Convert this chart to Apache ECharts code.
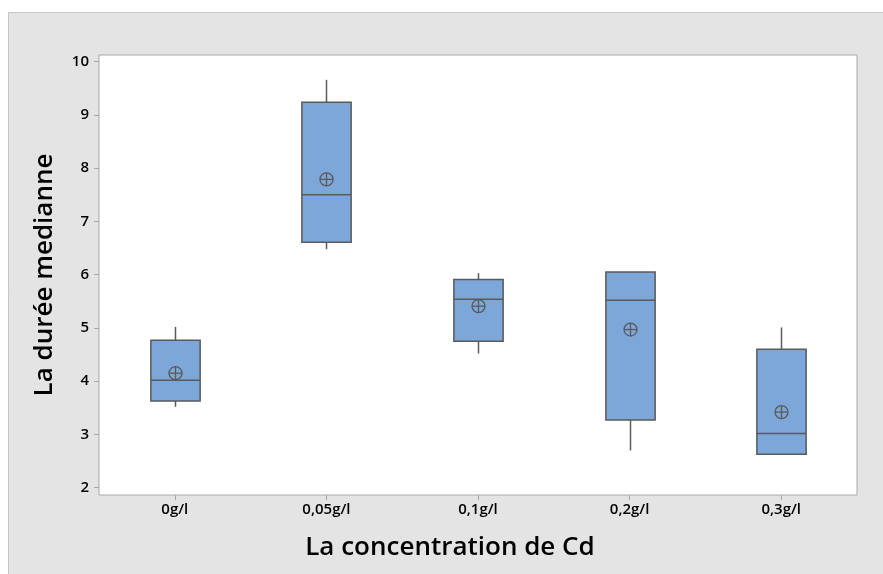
<!DOCTYPE html>
<html>
<head>
<meta charset="utf-8">
<script src="https://cdn.jsdelivr.net/npm/echarts@6/dist/echarts.min.js"></script>
<style>
html,body{margin:0;padding:0;background:#fff;}
#c{width:883px;height:574px;}
</style>
</head>
<body>
<div id="c"></div>
<script>
var categories = ['0g/l', '0,05g/l', '0,1g/l', '0,2g/l', '0,3g/l'];
var whiskerLow = [3.52, 6.48, 4.52, 2.70, 2.63];
var q1 = [3.63, 6.61, 4.75, 3.27, 2.63];
var median = [4.02, 7.50, 5.54, 5.52, 3.02];
var q3 = [4.77, 9.24, 5.91, 6.05, 4.60];
var whiskerHigh = [5.02, 9.66, 6.03, 6.05, 5.01];
var means = [4.15, 7.79, 5.41, 4.97, 3.42];
var yTicks = [2, 3, 4, 5, 6, 7, 8, 9, 10];

var data = categories.map(function (c, i) {
  return [i, whiskerLow[i], q1[i], median[i], q3[i], whiskerHigh[i], means[i]];
});

var chart = echarts.init(document.getElementById('c'));
var lineCol = '#5a5a5a';
chart.setOption({
  animation: false,
  backgroundColor: 'transparent',
  graphic: [{
    type: 'rect', z: -10, silent: true,
    shape: {x: 8.5, y: 12.5, width: 880, height: 570},
    style: {fill: '#e4e4e4', stroke: '#c6c6c6', lineWidth: 1}
  }],
  grid: {
    left: 99, top: 55, right: 26, bottom: 79,
    show: true, backgroundColor: '#ffffff', borderColor: '#a8a8a8', borderWidth: 1
  },
  xAxis: {
    type: 'category',
    data: categories,
    boundaryGap: true,
    name: 'La concentration de Cd',
    nameLocation: 'middle',
    nameGap: 40,
    nameTextStyle: {fontFamily: 'Open Sans', fontSize: 26, fontWeight: 600, color: '#000',
      padding: [0, 56, 0, 0]},
    axisLine: {show: false},
    axisTick: {show: true, alignWithLabel: true, length: 5, lineStyle: {color: '#a8a8a8'}},
    axisLabel: {fontFamily: 'Open Sans', fontSize: 15, fontWeight: 600, color: '#000', margin: 7}
  },
  yAxis: {
    type: 'value',
    min: 1.863, max: 10.126,
    interval: 1,
    name: 'La durée medianne',
    nameLocation: 'middle',
    nameGap: 41,
    nameRotate: 90,
    nameTextStyle: {fontFamily: 'Open Sans', fontSize: 26, fontWeight: 600, color: '#000'},
    splitLine: {show: false},
    axisLine: {show: false},
    axisTick: {show: true, length: 5, lineStyle: {color: '#a8a8a8'},
      customValues: yTicks},
    axisLabel: {fontFamily: 'Open Sans', fontSize: 15, fontWeight: 600, color: '#000', margin: 10,
      customValues: yTicks}
  },
  series: [{
    type: 'custom',
    data: data,
    encode: {x: 0, y: [1, 2, 3, 4, 5, 6]},
    renderItem: function (params, api) {
      var i = api.value(0);
      var bw = api.size([1, 0])[0] * 0.325;
      var lo = api.coord([i, api.value(1)]);
      var b1 = api.coord([i, api.value(2)]);
      var md = api.coord([i, api.value(3)]);
      var b3 = api.coord([i, api.value(4)]);
      var hi = api.coord([i, api.value(5)]);
      var mn = api.coord([i, api.value(6)]);
      var x = Math.round(lo[0]) + 0.5;
      var xl = x - bw / 2, xr = x + bw / 2;
      var st = {stroke: lineCol, lineWidth: 1.5, fill: null};
      var r = 6.5;
      return {
        type: 'group',
        children: [
          {type: 'line', shape: {x1: x, y1: hi[1], x2: x, y2: b3[1]}, style: st},
          {type: 'line', shape: {x1: x, y1: b1[1], x2: x, y2: lo[1]}, style: st},
          {type: 'rect', shape: {x: xl, y: b3[1], width: bw, height: b1[1] - b3[1]},
            style: {fill: '#7da7d9', stroke: lineCol, lineWidth: 1.5}},
          {type: 'line', shape: {x1: xl, y1: md[1], x2: xr, y2: md[1]}, style: st},
          {type: 'circle', shape: {cx: x, cy: mn[1], r: r}, style: {fill: null, stroke: lineCol, lineWidth: 1.3}},
          {type: 'line', shape: {x1: x - r, y1: mn[1], x2: x + r, y2: mn[1]}, style: {stroke: lineCol, lineWidth: 1.3}},
          {type: 'line', shape: {x1: x, y1: mn[1] - r, x2: x, y2: mn[1] + r}, style: {stroke: lineCol, lineWidth: 1.3}}
        ]
      };
    }
  }]
});
</script>
</body>
</html>
